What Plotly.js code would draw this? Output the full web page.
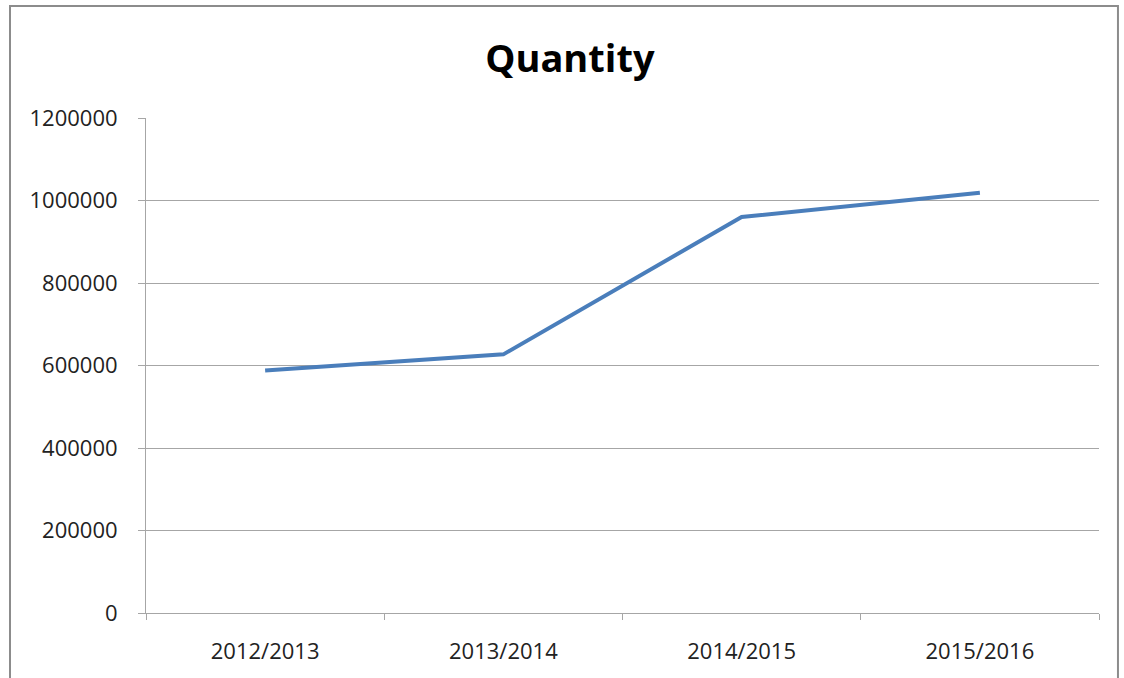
<!DOCTYPE html>
<html>
<head>
<meta charset="utf-8">
<script src="https://cdn.plot.ly/plotly-3.0.1.min.js"></script>
<style>html,body{margin:0;padding:0;background:#fff;}#chart{width:1124px;height:678px;}</style>
</head>
<body>
<div id="chart"></div>
<script>
const categories = ["2012/2013", "2013/2014", "2014/2015", "2015/2016"];
const quantity = [588000, 627000, 960000, 1019000];
const yTicks = [0, 200000, 400000, 600000, 800000, 1000000, 1200000];

const trace = {
  type: "scatter",
  mode: "lines",
  x: categories,
  y: quantity,
  line: {color: "#4a7ebb", width: 4},
  hoverinfo: "x+y"
};

const layout = {
  width: 1124,
  height: 678,
  margin: {l: 146, r: 25, t: 118, b: 65},
  paper_bgcolor: "#fff",
  plot_bgcolor: "#fff",
  showlegend: false,
  font: {family: "Open Sans, Noto Sans, sans-serif", color: "#222"},
  title: {
    text: "<b>Quantity</b>",
    font: {size: 38, color: "#000", family: "Open Sans, sans-serif"},
    x: 0.507, xanchor: "center", xref: "container",
    y: 0.914, yanchor: "middle", yref: "container"
  },
  xaxis: {
    type: "category",
    tickson: "boundaries",
    ticks: "outside", ticklen: 6, tickcolor: "#a6a6a6", tickwidth: 1,
    showline: true, linecolor: "#a6a6a6", linewidth: 1,
    showgrid: false, zeroline: false,
    tickfont: {size: 22, color: "#222"},
    ticklabelstandoff: 19,
    range: [-0.5, 3.5]
  },
  yaxis: {
    range: [0, 1200000],
    tickvals: yTicks,
    ticktext: yTicks.map(String),
    ticks: "outside", ticklen: 7, tickcolor: "#a6a6a6", tickwidth: 1,
    showline: true, linecolor: "#a6a6a6", linewidth: 1,
    showgrid: true, gridcolor: "#a6a6a6", gridwidth: 1,
    zeroline: false,
    tickfont: {size: 22, color: "#222"},
    ticklabelstandoff: 16
  },
  shapes: [{
    type: "rect", xref: "paper", yref: "paper",
    x0: -0.1427, x1: 1.0199, y0: -0.2, y1: 1.2263,
    line: {color: "#8c8c8c", width: 2}, fillcolor: "rgba(0,0,0,0)", layer: "below"
  }]
};

Plotly.newPlot("chart", [trace], layout, {displayModeBar: false, staticPlot: true});
</script>
</body>
</html>
